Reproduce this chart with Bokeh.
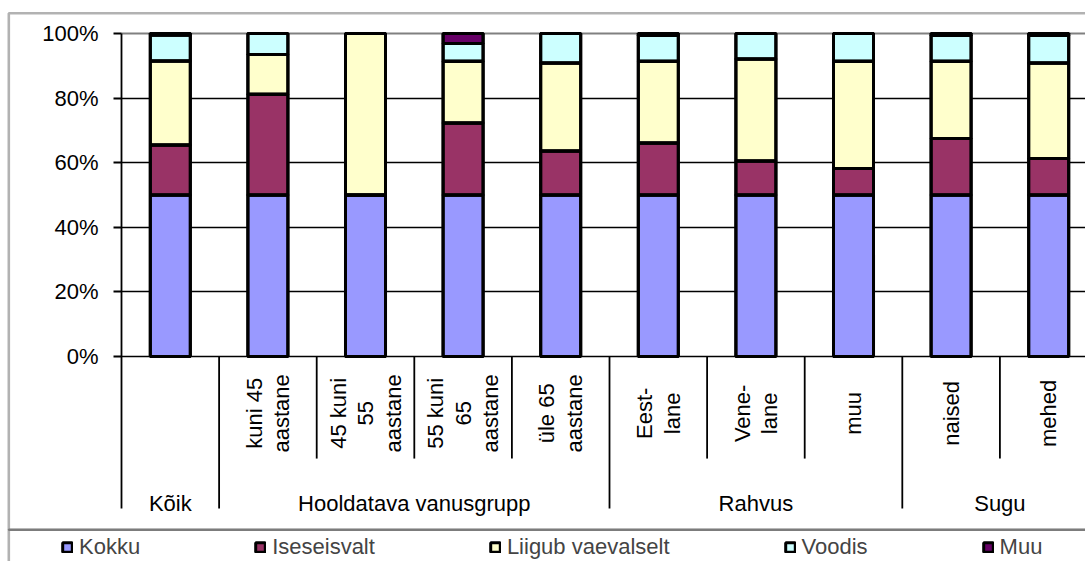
from math import pi
from bokeh.plotting import figure
from bokeh.models import (Range1d, FixedTicker, BoxAnnotation, Grid, Legend,
                          LegendItem, ColumnDataSource)
from bokeh.core.properties import value
from bokeh.embed import file_html
from bokeh.resources import INLINE

# ---------------- data ----------------
sub_labels = ["", "kuni 45\naastane", "45 kuni\n55\naastane", "55 kuni\n65\naastane",
              "üle 65\naastane", "Eest-\nlane", "Vene-\nlane", "muu", "naised", "mehed"]
group_names = ["Kõik", "Hooldatava vanusgrupp", "Rahvus", "Sugu"]
group_sizes = [1, 4, 3, 2]

series = ["Kokku", "Iseseisvalt", "Liigub vaevalselt", "Voodis", "Muu"]
kokku       = [50.0, 50.0, 50.0, 50.0, 50.0, 50.0, 50.0, 50.0, 50.0, 50.0]
iseseisvalt = [15.5, 31.2,  0.0, 22.3, 13.6, 16.1, 10.5,  8.2, 17.5, 11.3]
liigub      = [26.0, 12.3, 50.0, 19.1, 27.3, 25.3, 31.6, 33.2, 23.9, 29.6]
voodis      = [ 8.0,  6.5,  0.0,  5.5,  9.1,  8.0,  7.9,  8.6,  8.0,  8.5]
muu         = [ 0.5,  0.0,  0.0,  3.1,  0.0,  0.6,  0.0,  0.0,  0.6,  0.6]
colors = ["#9999FF", "#993366", "#FFFFCC", "#CCFFFF", "#660066"]

y_ticks = [0, 20, 40, 60, 80, 100]
y_tick_labels = ["0%", "20%", "40%", "60%", "80%", "100%"]

# ---------------- figure ----------------
FONT = value("Liberation Sans")
FS = "22px"
n = len(sub_labels)
xs = [i + 0.5 for i in range(n)]

p = figure(width=1085, height=561, x_range=Range1d(-1.2398, 9.877),
           y_range=Range1d(-63.47, 110.22), x_axis_type=None,
           toolbar_location=None, output_backend="svg",
           min_border_left=0, min_border_right=0, min_border_top=0,
           min_border_bottom=0, outline_line_color=None)
p.background_fill_color = "white"
p.border_fill_color = "white"

# grid lines (limited to the plot area)
p.ygrid.ticker = FixedTicker(ticks=[0, 20, 40, 60, 80])
p.ygrid.grid_line_color = "black"
p.ygrid.grid_line_width = 1.7
p.ygrid.cross_bounds = (0, 10)
top_grid = Grid(dimension=1, ticker=FixedTicker(ticks=[100]), cross_bounds=(0, 10),
                grid_line_color="#808080", grid_line_width=2.2)
p.add_layout(top_grid)

# y axis
ax = p.yaxis[0]
ax.fixed_location = 0
ax.ticker = FixedTicker(ticks=y_ticks)
ax.major_label_overrides = {t: l for t, l in zip(y_ticks, y_tick_labels)}
ax.bounds = (-47.06, 100)
ax.axis_line_color = "black"
ax.axis_line_width = 1.8
ax.major_tick_in = 0
ax.major_tick_out = 8
ax.major_tick_line_width = 1.8
ax.minor_tick_line_color = None
ax.major_label_standoff = 15
ax.major_label_text_font = "Liberation Sans"
ax.major_label_text_font_size = FS
ax.major_label_text_color = "black"

# bars: fills, then black outlines drawn on top
src = ColumnDataSource(dict(x=xs, Kokku=kokku, Iseseisvalt=iseseisvalt,
                            **{"Liigub vaevalselt": liigub}, Voodis=voodis, Muu=muu))
rs = p.vbar_stack(series, x="x", width=0.41, source=src, fill_color=colors,
                  line_color="black", line_width=3)
p.vbar_stack(series, x="x", width=0.41, source=src, fill_color=None,
             line_color="black", line_width=3)

# category axis: separators
bounds_long, bounds_short = [], []
c = 0
for g in group_sizes:
    for k in range(1, g):
        bounds_short.append(c + k)
    c += g
    bounds_long.append(c)
p.segment(x0=bounds_long, y0=[0] * len(bounds_long), x1=bounds_long,
          y1=[-47.06] * len(bounds_long), line_color="black", line_width=1.8)
p.segment(x0=bounds_short, y0=[0] * len(bounds_short), x1=bounds_short,
          y1=[-31.6] * len(bounds_short), line_color="black", line_width=1.8)

# sub labels (rotated)
p.text(x=xs, y=[-17.6] * n, text=sub_labels, angle=pi / 2, text_align="center",
       text_baseline="middle", text_font=FONT, text_font_size=FS,
       text_line_height=1.1, text_color="black")

# group labels
gx, c = [], 0
for g in group_sizes:
    gx.append(c + g / 2)
    c += g
p.text(x=gx, y=[-45.5] * len(gx), text=group_names, text_align="center",
       text_baseline="alphabetic", text_font=FONT, text_font_size=FS, text_color="black")

# chart-area frame (right edge lies beyond the visible page)
p.add_layout(BoxAnnotation(left=-1.1547, right=10.6, top=106.29, bottom=-53.65,
                           fill_color=None, line_color="black", line_width=2.6))
p.add_layout(BoxAnnotation(left=-1.1547, right=10.6, top=-53.65, bottom=-75,
                           fill_color=None, line_color="black", line_width=2.6))

# legend
legend = Legend(items=[LegendItem(label=s, renderers=[r]) for s, r in zip(series, rs)],
                orientation="horizontal", location=(61, 1),
                glyph_width=12, glyph_height=12, label_standoff=6, spacing=114,
                padding=0, margin=0, border_line_color=None, background_fill_alpha=0,
                label_text_font="Liberation Sans", label_text_font_size=FS)
p.add_layout(legend, "center")

open("out.html", "w").write(file_html(p, INLINE))
